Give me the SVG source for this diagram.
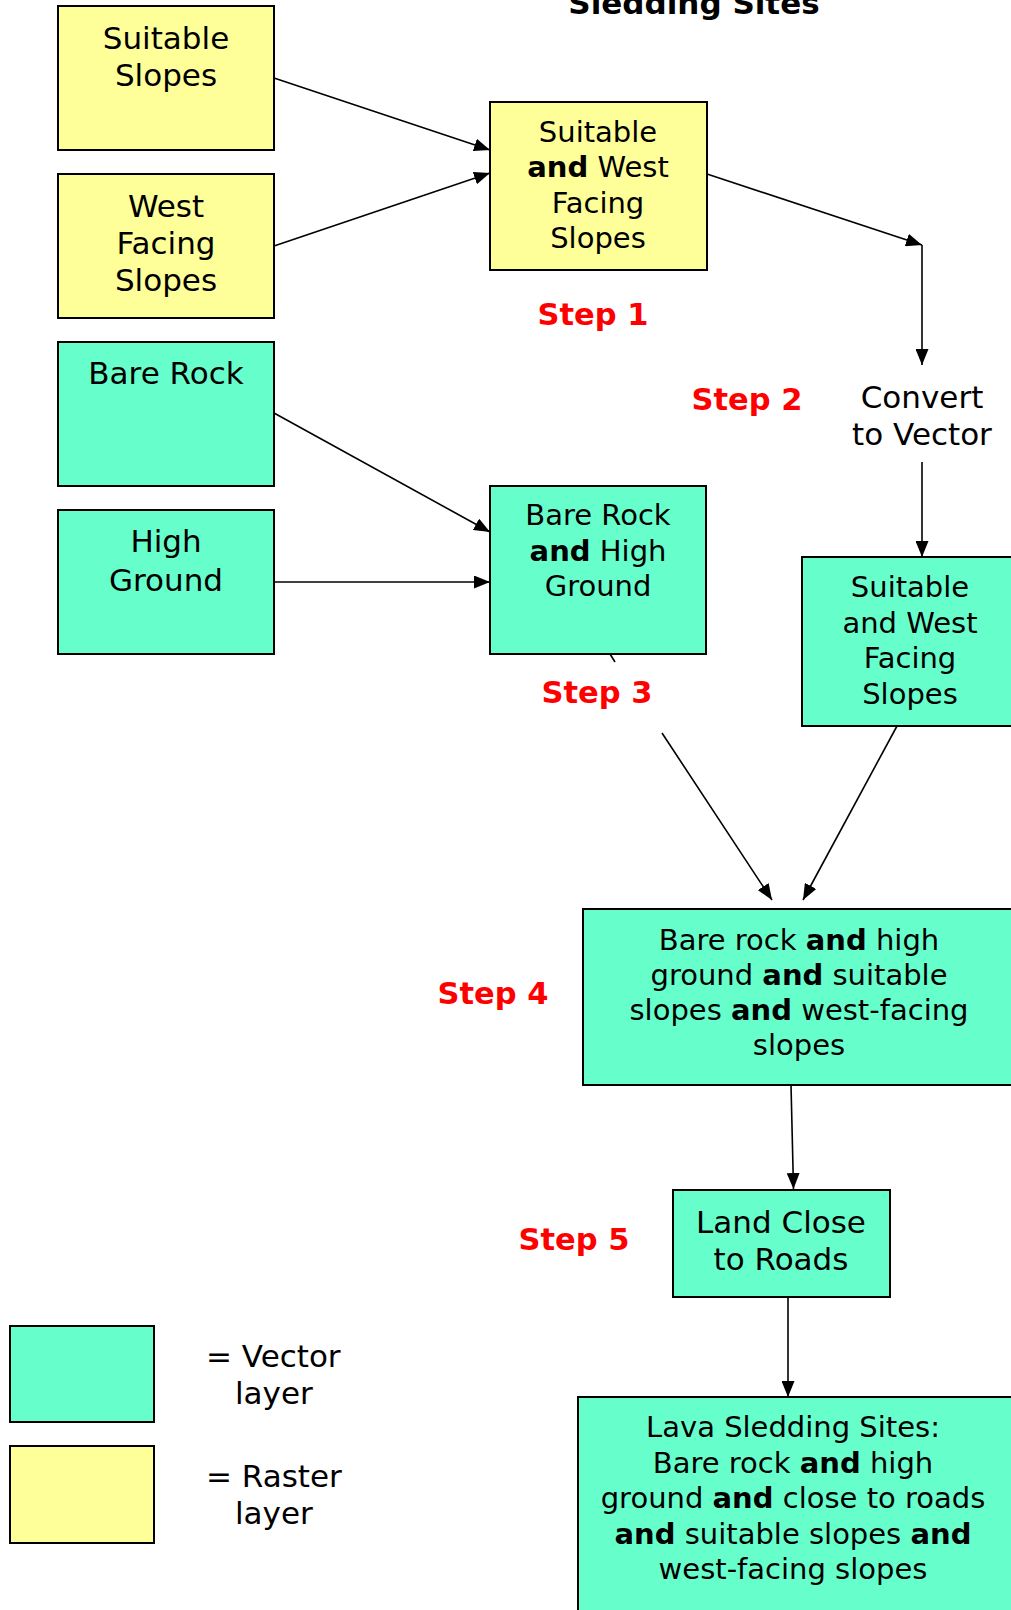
<svg xmlns="http://www.w3.org/2000/svg" width="1011" height="1610" viewBox="0 0 1011 1610">
<style>
.r{fill:#FFFF99;stroke:#000;stroke-width:2}
.v{fill:#66FFCC;stroke:#000;stroke-width:2}
.t{font-family:"DejaVu Sans",Verdana,sans-serif;fill:#000;text-anchor:middle}
.s31{font-size:31px}
.s29{font-size:29px}
.b{font-weight:bold}
.step{font-family:"DejaVu Sans",Verdana,sans-serif;font-weight:bold;font-size:30.5px;fill:#FF0000;text-anchor:middle}
.c{fill:none;stroke:#000;stroke-width:1.6}
</style>
<defs>
<marker id="ah" markerUnits="userSpaceOnUse" markerWidth="16" markerHeight="13" refX="16" refY="6.5" orient="auto">
<path d="M0,0 L16,6.5 L0,13 z" fill="#000"/>
</marker>
</defs>
<rect width="1011" height="1610" fill="#fff"/>
<text id="title" class="t b" x="694" y="14" style="font-size:31px">Sledding Sites</text>

<g id="connectors">
<line class="c" x1="274" y1="78" x2="490" y2="150" marker-end="url(#ah)"/>
<line class="c" x1="274" y1="246" x2="490" y2="173" marker-end="url(#ah)"/>
<line class="c" x1="707" y1="174" x2="922" y2="245" marker-end="url(#ah)"/>
<line class="c" x1="922" y1="245" x2="922" y2="365" marker-end="url(#ah)"/>
<line class="c" x1="274" y1="413" x2="490" y2="532" marker-end="url(#ah)"/>
<line class="c" x1="274" y1="582" x2="490" y2="582" marker-end="url(#ah)"/>
<line class="c" x1="922" y1="462" x2="922" y2="557" marker-end="url(#ah)"/>
<path class="c" d="M610,654 L615,662 M662,733 L772,900" marker-end="url(#ah)"/>
<line class="c" x1="897" y1="726" x2="803" y2="900" marker-end="url(#ah)"/>
<line class="c" x1="791" y1="1085" x2="793.5" y2="1189" marker-end="url(#ah)"/>
<line class="c" x1="788" y1="1292" x2="788" y2="1397" marker-end="url(#ah)"/>
</g>

<g id="n1">
<rect class="r" x="58" y="6" width="216" height="144"/>
<text class="t s31"><tspan x="166" y="49">Suitable</tspan><tspan x="166" y="86">Slopes</tspan></text>
</g>
<g id="n2">
<rect class="r" x="58" y="174" width="216" height="144"/>
<text class="t s31"><tspan x="166" y="217">West</tspan><tspan x="166" y="254">Facing</tspan><tspan x="166" y="291">Slopes</tspan></text>
</g>
<g id="n3">
<rect class="r" x="490" y="102" width="217" height="168"/>
<text class="t s29"><tspan x="598" y="142">Suitable</tspan><tspan x="598" y="177"><tspan class="b">and</tspan> West</tspan><tspan x="598" y="213">Facing</tspan><tspan x="598" y="248">Slopes</tspan></text>
</g>
<g id="n4">
<rect class="v" x="58" y="342" width="216" height="144"/>
<text class="t s31"><tspan x="166" y="384">Bare Rock</tspan></text>
</g>
<g id="n5">
<rect class="v" x="58" y="510" width="216" height="144"/>
<text class="t s31"><tspan x="166" y="552">High</tspan><tspan x="166" y="591">Ground</tspan></text>
</g>
<g id="n6">
<rect class="v" x="490" y="486" width="216" height="168"/>
<text class="t s29"><tspan x="598" y="525">Bare Rock</tspan><tspan x="598" y="561"><tspan class="b">and</tspan> High</tspan><tspan x="598" y="596">Ground</tspan></text>
</g>
<g id="n7">
<text class="t s31"><tspan x="922" y="408">Convert</tspan><tspan x="922" y="445">to Vector</tspan></text>
</g>
<g id="n8">
<rect class="v" x="802" y="557" width="218" height="169"/>
<text class="t s29"><tspan x="910" y="597">Suitable</tspan><tspan x="910" y="633">and West</tspan><tspan x="910" y="668">Facing</tspan><tspan x="910" y="704">Slopes</tspan></text>
</g>
<g id="n9">
<rect class="v" x="583" y="909" width="437" height="176"/>
<text class="t s29"><tspan x="799" y="950">Bare rock <tspan class="b">and</tspan> high</tspan><tspan x="799" y="985">ground <tspan class="b">and</tspan> suitable</tspan><tspan x="799" y="1020">slopes <tspan class="b">and</tspan> west-facing</tspan><tspan x="799" y="1055">slopes</tspan></text>
</g>
<g id="n10">
<rect class="v" x="673" y="1190" width="217" height="107"/>
<text class="t s31"><tspan x="781" y="1233">Land Close</tspan><tspan x="781" y="1270">to Roads</tspan></text>
</g>
<g id="n11">
<rect class="v" x="578" y="1397" width="442" height="223"/>
<text class="t s29"><tspan x="793" y="1437">Lava Sledding Sites:</tspan><tspan x="793" y="1473">Bare rock <tspan class="b">and</tspan> high</tspan><tspan x="793" y="1508">ground <tspan class="b">and</tspan> close to roads</tspan><tspan x="793" y="1544"><tspan class="b">and</tspan> suitable slopes <tspan class="b">and</tspan></tspan><tspan x="793" y="1579">west-facing slopes</tspan></text>
</g>

<g id="steps">
<text class="step" x="593" y="325">Step 1</text>
<text class="step" x="747" y="410">Step 2</text>
<text class="step" x="597" y="703">Step 3</text>
<text class="step" x="493" y="1004">Step 4</text>
<text class="step" x="574" y="1250">Step 5</text>
</g>

<g id="legend">
<rect class="v" x="10" y="1326" width="144" height="96"/>
<rect class="r" x="10" y="1446" width="144" height="97"/>
<text class="t s31" style="text-anchor:start"><tspan x="206" y="1367">= Vector</tspan><tspan x="235" y="1404">layer</tspan></text>
<text class="t s31" style="text-anchor:start"><tspan x="206" y="1487">= Raster</tspan><tspan x="235" y="1524">layer</tspan></text>
</g>
</svg>
